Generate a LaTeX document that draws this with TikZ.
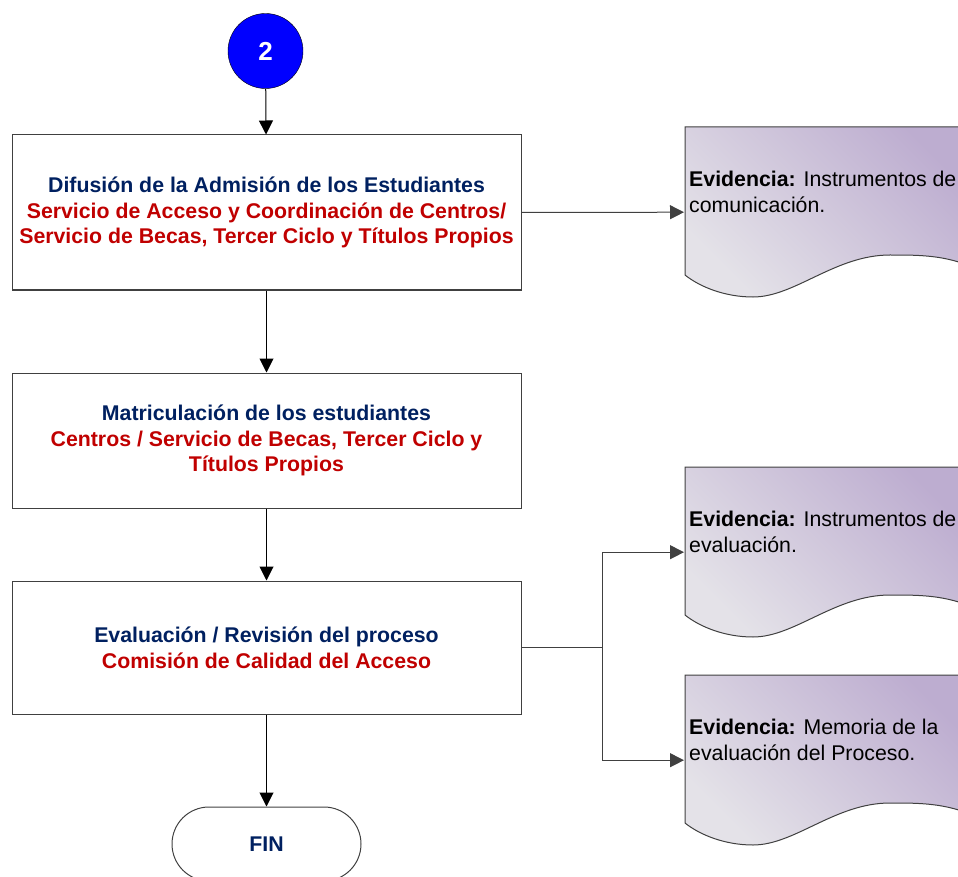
\documentclass[tikz,border=0pt]{standalone}
\usepackage{fontspec}
\setmainfont{Liberation Sans}
\usepackage{xcolor}
\usepackage{tikz}
\usetikzlibrary{positioning,arrows.meta,calc}

\definecolor{navytxt}{HTML}{002060}
\definecolor{redtxt}{HTML}{C00000}
\definecolor{docdark}{HTML}{BDADD0}
\definecolor{doclight}{HTML}{E4E2E8}
\definecolor{edgegray}{HTML}{404040}

\begin{document}
\begin{tikzpicture}[x=1pt, y=-1pt,
    font=\fontsize{21.3}{25.7}\selectfont,
    arr/.style={-{Triangle[length=14pt,width=14pt]}, line width=1pt},
    procbox/.style={draw=edgegray, line width=1pt, minimum width=509pt, align=center, font=\fontsize{21.3}{25.7}\selectfont\bfseries},
    doc/.style={minimum width=290pt, minimum height=170pt, anchor=north west, inner sep=0pt},
    doctext/.style={anchor=north west, inner sep=0pt, align=left, text=black}]

    \useasboundingbox (0,0) rectangle (958,877);
    \clip (0,0) rectangle (958,877);

    % 
    \node[draw=black, fill=blue, circle, minimum size=75pt, inner sep=0pt, text=white, font=\fontsize{26}{30}\selectfont\bfseries] (c2) at (265.5,51) {2};

    % 
    \node[procbox, minimum height=155pt] (dif) at (266.5,212.5) {\textcolor{navytxt}{Difusión de la Admisión de los Estudiantes}\\ \textcolor{redtxt}{Servicio de Acceso y Coordinación de Centros/}\\ \textcolor{redtxt}{Servicio de Becas, Tercer Ciclo y Títulos Propios}};
    \node[procbox, minimum height=135pt] (mat) at (266.5,440.5) {\textcolor{navytxt}{Matriculación de los estudiantes}\\ \textcolor{redtxt}{Centros / Servicio de Becas, Tercer Ciclo y}\\ \textcolor{redtxt}{Títulos Propios}};
    \node[procbox, minimum height=133pt] (eva) at (266.5,647.5) {\textcolor{navytxt}{Evaluación / Revisión del proceso}\\ \textcolor{redtxt}{Comisión de Calidad del Acceso}};
    \node[draw=edgegray, line width=1pt, rounded corners=37pt, minimum width=189pt, minimum height=74pt, text=navytxt, font=\fontsize{21.3}{25}\selectfont\bfseries] (fin) at (266.5,844) {FIN};

    % 
    \node[doc] (ev1) at (685,127) {};
    \node[doc] (ev2) at (685,467) {};
    \node[doc] (ev3) at (685,675) {};
    \foreach \d in {ev1,ev2,ev3}{
        \shadedraw[draw=edgegray, line width=1pt, top color=docdark, bottom color=doclight, shading angle=-45]
            (\d.north west) -- (\d.north east) -- ($(\d.north west)+(290,141)$)
            .. controls ($(\d.north west)+(260,128)$) and ($(\d.north west)+(235,128)$) .. ($(\d.north west)+(205,128)$)
            .. controls ($(\d.north west)+(150,128)$) and ($(\d.north west)+(110,170)$) .. ($(\d.north west)+(68,170)$)
            .. controls ($(\d.north west)+(40,170)$) and ($(\d.north west)+(15,160)$) .. ($(\d.north west)+(0,148)$) -- cycle;
    }
    \node[doctext] (ev1t) at (689,171) {\textbf{Evidencia:} Instrumentos de\\comunicación.};
    \node[doctext] (ev2t) at (689,511) {\textbf{Evidencia:} Instrumentos de\\evaluación.};
    \node[doctext] (ev3t) at (689,719) {\textbf{Evidencia:} Memoria de la\\evaluación del Proceso.};

    % 
    \draw[arr] (c2) -- (dif);
    \draw[arr] (dif) -- (mat);
    \draw[arr] (mat) -- (eva);
    \draw[arr] (eva) -- (fin);
    \draw[arr, draw=edgegray, shorten >=1pt] (dif.east) -- (ev1.west);
    \draw[arr, draw=edgegray, shorten >=1pt] (eva.east) -- ++(81,0) |- (ev2.west);
    \draw[arr, draw=edgegray, shorten >=1pt] (eva.east) -- ++(81,0) |- (ev3.west);

\end{tikzpicture}
\end{document}
